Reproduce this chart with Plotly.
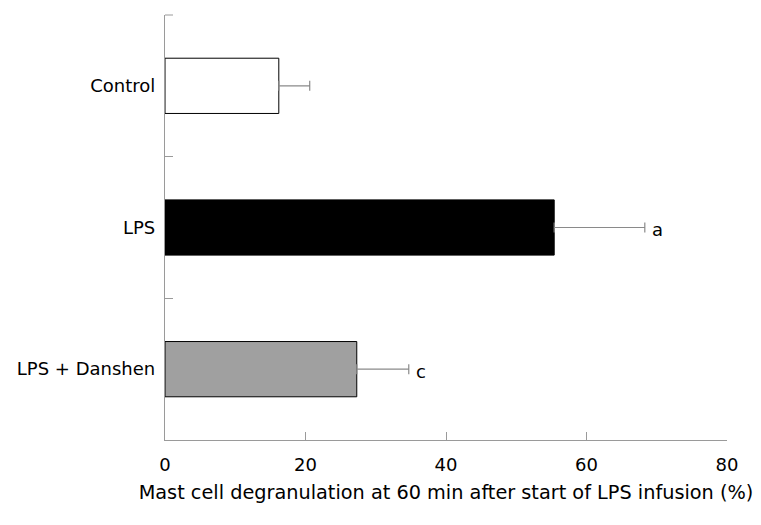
import plotly.graph_objects as go

categories = ["Control", "LPS", "LPS + Danshen"]
means = [16.2, 55.4, 27.3]
errors = [4.4, 12.9, 7.4]
sig_labels = ["", "a", "c"]
bar_colors = ["#ffffff", "#000000", "#a0a0a0"]

AXIS_GRAY = "#9a9a9a"
FONT = "DejaVu Sans, Verdana, sans-serif"
PLOT_W = 761 - 157 - 42

fig = go.Figure()
fig.add_trace(go.Bar(
    x=means,
    y=categories,
    orientation="h",
    width=0.39,
    marker=dict(color=bar_colors, line=dict(color="#000000", width=1)),
    error_x=dict(type="data", array=errors, arrayminus=[0, 0, 0], symmetric=False,
                 color="#8a8a8a", thickness=1.2, width=5),
    showlegend=False,
))

for cat, m, e, lab in zip(categories, means, errors, sig_labels):
    if lab:
        fig.add_annotation(x=m + e, y=cat, text=lab, showarrow=False,
                           xanchor="left", xshift=5, yshift=-2,
                           font=dict(family=FONT, size=18, color="#000000"))

# top boundary tick of the category axis (plotly skips it at the range edge)
fig.add_shape(type="line", xref="paper", yref="paper",
              x0=0, x1=8 / PLOT_W, y0=1, y1=1,
              line=dict(color=AXIS_GRAY, width=1))

# the page body adds an 8px offset, so margins are shifted to compensate
fig.update_layout(
    width=761, height=525,
    margin=dict(l=157, r=42, t=7, b=93),
    paper_bgcolor="white", plot_bgcolor="white",
    font=dict(family=FONT, size=18, color="#000000"),
)
fig.update_xaxes(
    range=[0, 80], tickvals=[0, 20, 40, 60, 80],
    showline=True, linecolor=AXIS_GRAY, linewidth=1.3,
    ticks="inside", ticklen=8, tickcolor=AXIS_GRAY, tickwidth=1,
    showgrid=False, zeroline=False, ticklabelstandoff=8,
    title=dict(text="Mast cell degranulation at 60 min after start of LPS infusion (%)",
               font=dict(family=FONT, size=19.3), standoff=11),
)
fig.update_yaxes(
    range=[2.5, -0.5], type="category", tickson="boundaries",
    showline=True, linecolor=AXIS_GRAY, linewidth=1.3,
    ticks="inside", ticklen=8, tickcolor=AXIS_GRAY, tickwidth=1,
    showgrid=False, zeroline=False, ticklabelstandoff=5,
)

fig.write_html("out.html")
